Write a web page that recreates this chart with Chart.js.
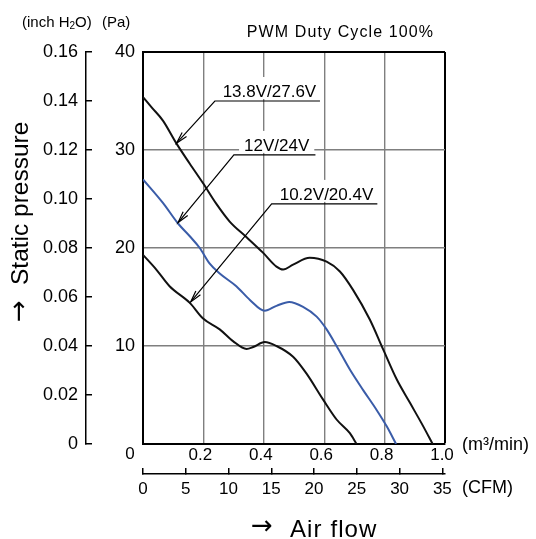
<!DOCTYPE html>
<html>
<head>
<meta charset="utf-8">
<script src="https://cdn.jsdelivr.net/npm/chart.js@4.4.1/dist/chart.umd.min.js"></script>
<style>
    body { margin: 0; background: #fff; }
    #wrap { width: 536px; height: 539px; }
</style>
</head>
<body>
<div id="wrap"><canvas id="pqChart" width="536" height="539"></canvas></div>
<script>
// Air flow (m3/min) and static pressure (Pa)
var flow138 = [0, 0.03, 0.066, 0.11, 0.155, 0.199, 0.243, 0.287, 0.343, 0.398, 0.442, 0.464, 0.497, 0.552, 0.608, 0.652, 0.696, 0.751, 0.796, 0.84, 0.884, 0.928, 0.959];
var pres138 = [35.4, 34.3, 33.0, 30.7, 28.6, 26.6, 24.5, 22.7, 21.1, 19.5, 18.1, 17.8, 18.3, 19.0, 18.6, 17.6, 15.7, 12.7, 9.6, 6.6, 4.2, 1.8, 0];

var flow12 = [0, 0.066, 0.116, 0.155, 0.188, 0.221, 0.254, 0.309, 0.354, 0.403, 0.442, 0.484, 0.53, 0.575, 0.608, 0.641, 0.685, 0.729, 0.773, 0.807, 0.838];
var pres12 = [27.0, 24.6, 22.5, 21.2, 20.0, 18.4, 17.4, 16.1, 14.7, 13.6, 14.1, 14.5, 14.0, 13.0, 11.7, 10.0, 7.6, 5.5, 3.5, 1.8, 0];

var flow102 = [0, 0.044, 0.088, 0.155, 0.199, 0.254, 0.298, 0.343, 0.365, 0.403, 0.442, 0.497, 0.541, 0.597, 0.641, 0.685, 0.707];
var pres102 = [19.3, 17.8, 16.1, 14.4, 12.8, 11.7, 10.5, 9.7, 9.9, 10.4, 10.0, 8.9, 7.2, 4.5, 2.5, 1.1, 0];

// Axis ticks and their labels
var flowTicks = [0, 0.2, 0.4, 0.6, 0.8, 1.0];
var flowTickLabels = ['', '0.2', '0.4', '0.6', '0.8', '1.0'];
var cfmTicks = [0, 5, 10, 15, 20, 25, 30, 35];
var cfmTickLabels = ['0', '5', '10', '15', '20', '25', '30', '35'];
var paTicks = [0, 10, 20, 30, 40];
var paTickLabels = ['', '10', '20', '30', '40'];
var inchTicks = [0, 0.02, 0.04, 0.06, 0.08, 0.10, 0.12, 0.14, 0.16];
var inchTickLabels = ['0', '0.02', '0.04', '0.06', '0.08', '0.10', '0.12', '0.14', '0.16'];

// Curve call-outs: label, underline span (m3/min), underline height (Pa), arrow tip
var noteLabels = ['13.8V/27.6V', '12V/24V', '10.2V/20.4V'];
var noteLineFrom = [0.238, 0.301, 0.426];
var noteLineTo = [0.586, 0.571, 0.776];
var noteLineAt = [35.0, 29.5, 24.5];
var noteTipFlow = [0.111, 0.116, 0.158];
var noteTipPres = [30.7, 22.6, 14.5];

var fontName = '"Liberation Sans", Arial, Helvetica, sans-serif';
var arrowFont = '"DejaVu Sans", sans-serif';
var gridGray = '#7f7f7f';

Chart.defaults.font.family = fontName;
Chart.defaults.color = '#000';

function toPoints(xs, ys)
{
    var pts = [];
    for (var i = 0; i < xs.length; i++) pts.push({x: xs[i], y: ys[i]});
    return pts;
}

function fixedTicks(values)
{
    return function (scale) {
        scale.ticks = values.map(function (v) { return {value: v}; });
    };
}

function drawArrowHead(ctx, fromX, fromY, tipX, tipY)
{
    var angle = Math.atan2(tipY - fromY, tipX - fromX);
    var len = 12, spread = 0.25;
    ctx.beginPath();
    ctx.moveTo(tipX - len * Math.cos(angle - spread), tipY - len * Math.sin(angle - spread));
    ctx.lineTo(tipX, tipY);
    ctx.lineTo(tipX - len * Math.cos(angle + spread), tipY - len * Math.sin(angle + spread));
    ctx.stroke();
}

function noteCenter(x, i)
{
    return (x.getPixelForValue(noteLineFrom[i]) + x.getPixelForValue(noteLineTo[i])) / 2 + 2;
}

// Extra text: call-outs, unit labels and axis titles
var pqTextPlugin = {
    id: 'pqText',
    beforeDatasetsDraw: function (chart) {
        // white boxes behind the call-out labels hide the grid
        var ctx = chart.ctx, x = chart.scales.x, y = chart.scales.y;
        ctx.save();
        ctx.font = '17px ' + fontName;
        ctx.fillStyle = '#fff';
        for (var i = 0; i < noteLabels.length; i++) {
            var w = ctx.measureText(noteLabels[i]).width;
            var cx = noteCenter(x, i);
            var base = y.getPixelForValue(noteLineAt[i]) - 4;
            ctx.fillRect(cx - w / 2 - 5, base - 20, w + 10, 22);
        }
        ctx.restore();
    },
    afterDatasetsDraw: function (chart) {
        var ctx = chart.ctx, x = chart.scales.x, y = chart.scales.y, x2 = chart.scales.x2;
        var area = chart.chartArea;
        ctx.save();

        // call-out leaders and labels
        ctx.strokeStyle = '#000';
        ctx.lineWidth = 1.2;
        ctx.fillStyle = '#000';
        ctx.font = '17px ' + fontName;
        ctx.textAlign = 'center';
        ctx.textBaseline = 'alphabetic';
        for (var i = 0; i < noteLabels.length; i++) {
            var lx1 = x.getPixelForValue(noteLineFrom[i]);
            var lx2 = x.getPixelForValue(noteLineTo[i]);
            var ly = y.getPixelForValue(noteLineAt[i]);
            var tx = x.getPixelForValue(noteTipFlow[i]);
            var ty = y.getPixelForValue(noteTipPres[i]);
            ctx.beginPath();
            ctx.moveTo(lx2, ly);
            ctx.lineTo(lx1, ly);
            ctx.lineTo(tx, ty);
            ctx.stroke();
            drawArrowHead(ctx, lx1, ly, tx, ty);
            ctx.fillText(noteLabels[i], noteCenter(x, i), ly - 4);
        }

        // header texts
        ctx.textAlign = 'right';
        ctx.font = '16px ' + fontName;
        ctx.letterSpacing = '1.1px';
        ctx.fillText('PWM Duty Cycle 100%', area.right - 11, area.top - 15);
        ctx.letterSpacing = '0px';

        ctx.textAlign = 'left';
        ctx.font = '15px ' + fontName;
        var ux = 22, uy = 26.5;
        ctx.fillText('(inch H', ux, uy);
        ux += ctx.measureText('(inch H').width;
        ctx.font = '10px ' + fontName;
        ctx.fillText('2', ux, uy + 2);
        ux += ctx.measureText('2').width;
        ctx.font = '15px ' + fontName;
        ctx.fillText('O)', ux, uy);
        ctx.fillText('(Pa)', 102, uy);

        // corner zero and unit labels
        ctx.textBaseline = 'middle';
        ctx.textAlign = 'center';
        ctx.font = '17px ' + fontName;
        ctx.fillText('0', area.left - 13, area.bottom + 10);
        ctx.textAlign = 'left';
        ctx.font = '18px ' + fontName;
        ctx.fillText('(m\u00B3/min)', area.right + 17, area.bottom + 1);
        ctx.fillText('(CFM)', area.right + 17, x2.top + 14);

        // axis titles
        ctx.font = '26px ' + arrowFont;
        ctx.textAlign = 'center';
        ctx.fillText('\u2192', 262, 527);
        ctx.font = '24px ' + fontName;
        ctx.textAlign = 'left';
        ctx.textBaseline = 'alphabetic';
        ctx.letterSpacing = '1.1px';
        ctx.fillText('Air flow', 290, 536.5);
        ctx.letterSpacing = '0px';

        ctx.save();
        ctx.translate(28, 285);
        ctx.rotate(-Math.PI / 2);
        ctx.font = '24.5px ' + fontName;
        ctx.fillText('Static pressure', 0, 0);
        ctx.restore();

        ctx.save();
        ctx.translate(20, 311);
        ctx.rotate(-Math.PI / 2);
        ctx.font = '26px ' + arrowFont;
        ctx.textAlign = 'center';
        ctx.textBaseline = 'middle';
        ctx.fillText('\u2192', 0, 0);
        ctx.restore();

        ctx.restore();
    }
};

function plotGridColor(edgeValue)
{
    return function (c) { return c.tick && c.tick.value === edgeValue ? '#000' : gridGray; };
}

function plotGridWidth(edgeValue)
{
    return function (c) { return c.tick && c.tick.value === edgeValue ? 2 : 1.4; };
}

var pqChart = new Chart(document.getElementById('pqChart'), {
    type: 'line',
    data: {
        datasets: [
            {label: noteLabels[0], data: toPoints(flow138, pres138), borderColor: '#111'},
            {label: noteLabels[1], data: toPoints(flow12, pres12), borderColor: '#3a5ca8'},
            {label: noteLabels[2], data: toPoints(flow102, pres102), borderColor: '#111'}
        ]
    },
    options: {
        responsive: false,
        animation: false,
        layout: {padding: {top: 52, left: 0, right: 91, bottom: 35}},
        plugins: {
            legend: {display: false},
            tooltip: {enabled: false}
        },
        elements: {
            point: {radius: 0},
            line: {borderWidth: 2, cubicInterpolationMode: 'monotone', fill: false}
        },
        scales: {
            x: {
                type: 'linear', position: 'bottom', weight: 0, min: 0, max: 1.0,
                afterBuildTicks: fixedTicks(flowTicks),
                afterFit: function (s) { s.height = 30; },
                ticks: {
                    padding: 1, labelOffset: -3, maxRotation: 0, autoSkip: false,
                    font: {size: 17},
                    callback: function (v, i) { return flowTickLabels[i]; }
                },
                grid: {drawTicks: false, color: plotGridColor(1.0), lineWidth: plotGridWidth(1.0)},
                border: {color: '#000', width: 2}
            },
            x2: {
                type: 'linear', position: 'bottom', weight: 1, min: 0, max: 35.31,
                afterBuildTicks: fixedTicks(cfmTicks),
                afterFit: function (s) { s.height = 30; },
                ticks: {
                    padding: 11, maxRotation: 0, autoSkip: false,
                    font: {size: 17},
                    callback: function (v, i) { return cfmTickLabels[i]; }
                },
                grid: {drawOnChartArea: false, color: '#000', lineWidth: 1.5, tickLength: -6},
                border: {color: '#000', width: 1.5}
            },
            y: {
                type: 'linear', position: 'left', weight: 0, min: 0, max: 40,
                afterBuildTicks: fixedTicks(paTicks),
                afterFit: function (s) { s.width = 57; },
                ticks: {
                    padding: 8, autoSkip: false,
                    font: {size: 18},
                    callback: function (v, i) { return paTickLabels[i]; }
                },
                grid: {drawTicks: false, color: plotGridColor(40), lineWidth: plotGridWidth(40)},
                border: {color: '#000', width: 2}
            },
            y2: {
                type: 'linear', position: 'left', weight: 1, min: 0, max: 0.16,
                afterBuildTicks: fixedTicks(inchTicks),
                afterFit: function (s) { s.width = 86; },
                ticks: {
                    padding: 14, autoSkip: false,
                    font: {size: 18},
                    callback: function (v, i) { return inchTickLabels[i]; }
                },
                grid: {drawOnChartArea: false, color: '#000', lineWidth: 1.5, tickLength: -6},
                border: {color: '#000', width: 1.5}
            }
        }
    },
    plugins: [pqTextPlugin]
});
</script>
</body>
</html>
